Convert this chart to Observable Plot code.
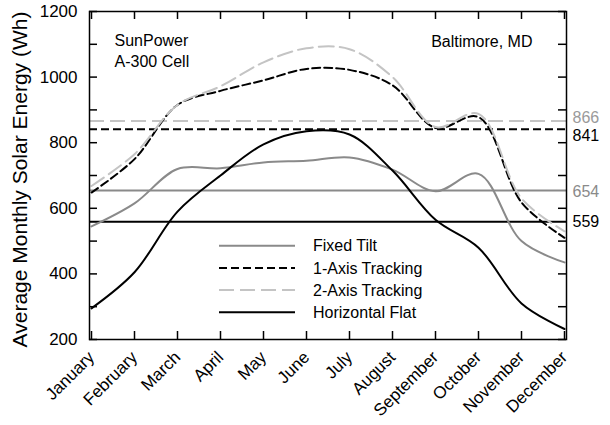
<!DOCTYPE html>
<html>
<head>
<meta charset="utf-8">
<script src="https://cdn.jsdelivr.net/npm/d3@7"></script>
<script src="https://cdn.jsdelivr.net/npm/@observablehq/plot@0.6"></script>
<style>
  html, body { margin: 0; padding: 0; background: white; }
</style>
</head>
<body>
<div id="chart"></div>
<script>
// ---- Data ----
const months = ["January", "February", "March", "April", "May", "June", "July", "August", "September", "October", "November", "December"];
const fixedTilt      = [545, 615, 720, 722, 740, 745, 755, 718, 652, 705, 500, 435];
const oneAxisTracking = [648, 750, 915, 958, 990, 1025, 1022, 975, 845, 878, 618, 510];
const twoAxisTracking = [668, 765, 915, 972, 1045, 1088, 1085, 1000, 848, 888, 630, 530];
const horizontalFlat = [295, 405, 590, 700, 795, 835, 825, 715, 565, 480, 310, 232];
const seriesNames = ["Fixed Tilt", "1-Axis Tracking", "2-Axis Tracking", "Horizontal Flat"];
const averages = [654, 841, 866, 559];
const yTickLabels = [200, 400, 600, 800, 1000, 1200];
const yTickMarks = [200, 300, 400, 500, 600, 700, 800, 900, 1000, 1100, 1200];
const noteLeft = "SunPower\nA-300 Cell";
const noteRight = "Baltimore, MD";
const yTitle = "Average Monthly Solar Energy (Wh)";

// ---- Layout & styles ----
const W = 610, H = 425, mL = 89, mR = 44, mT = 11, mB = 86;
const frameW = W - mL - mR, frameH = H - mT - mB, tickLen = 8;
const seriesValues = [fixedTilt, oneAxisTracking, twoAxisTracking, horizontalFlat];
const styles = [
  {stroke: "#8a8a8a", dash: null, labelFill: "#8a8a8a", labelDy: 1},
  {stroke: "#000000", dash: "8,4", labelFill: "#000000", labelDy: 7},
  {stroke: "#c4c4c4", dash: "15,6", labelFill: "#9a9a9a", labelDy: -3},
  {stroke: "#000000", dash: null, labelFill: "#000000", labelDy: 0}
];

const rows = seriesNames.flatMap((name, s) =>
  months.map((m, i) => ({series: name, month: m, value: seriesValues[s][i]})));

const font = "'Liberation Sans', Arial, Helvetica, sans-serif";

const marks = [];
// average reference lines
seriesNames.forEach((name, s) => {
  marks.push(Plot.ruleY([averages[s]], {stroke: styles[s].stroke, strokeDasharray: styles[s].dash, strokeWidth: 2}));
});
// curves
seriesNames.forEach((name, s) => {
  marks.push(Plot.line(rows.filter(d => d.series === name), {
    x: "month", y: "value", stroke: styles[s].stroke, strokeDasharray: styles[s].dash,
    strokeWidth: 2, curve: "catmull-rom"
  }));
});
// average labels
seriesNames.forEach((name, s) => {
  marks.push(Plot.text([averages[s]], {
    y: d => d, text: d => String(d), frameAnchor: "right", dx: 6, dy: styles[s].labelDy,
    textAnchor: "start", fill: styles[s].labelFill, fontSize: 16
  }));
});

marks.push(
  Plot.frame({stroke: "black", strokeWidth: 1.5}),
  // inward ticks on all four sides
  Plot.tickX(months, {x: d => d, insetTop: frameH - tickLen, stroke: "black", strokeWidth: 1.5}),
  Plot.tickX(months, {x: d => d, insetBottom: frameH - tickLen, stroke: "black", strokeWidth: 1.5}),
  Plot.tickY(yTickMarks, {y: d => d, insetRight: frameW - tickLen, stroke: "black", strokeWidth: 1.5}),
  Plot.tickY(yTickMarks, {y: d => d, insetLeft: frameW - tickLen, stroke: "black", strokeWidth: 1.5}),
  Plot.axisY({anchor: "left", ticks: yTickLabels, tickSize: 0, tickPadding: 12,
    tickFormat: d => String(d), label: null, fontSize: 17}),
  Plot.axisX({anchor: "bottom", tickSize: 0, tickPadding: 15, tickRotate: -45, label: null, fontSize: 17}),
  Plot.text([noteLeft], {frameAnchor: "top-left", dx: 25, dy: 20, lineAnchor: "top", textAnchor: "start", lineHeight: 1.3, fontSize: 16}),
  Plot.text([noteRight], {frameAnchor: "top-right", dx: -34, dy: 24, lineAnchor: "top", textAnchor: "end", fontSize: 16}),
  Plot.text([yTitle], {frameAnchor: "left", dx: -69, dy: 4, rotate: -90, textAnchor: "middle", fontSize: 21})
);

const chart = Plot.plot({
  width: W, height: H,
  marginLeft: mL, marginRight: mR, marginTop: mT, marginBottom: mB,
  x: {type: "point", domain: months, padding: 0},
  y: {domain: [200, 1200]},
  style: {fontFamily: font, fontSize: "16px", background: "white", color: "black"},
  marks
});

// legend overlay
const svg = d3.select(chart);
const lg = svg.append("g").attr("font-family", font).attr("font-size", 16).attr("text-anchor", "start");
seriesNames.forEach((name, s) => {
  const y = 245.7 + s * 22.2;
  lg.append("line").attr("x1", 219).attr("x2", 295).attr("y1", y).attr("y2", y)
    .attr("stroke", styles[s].stroke).attr("stroke-width", 2)
    .attr("stroke-dasharray", styles[s].dash);
  lg.append("text").attr("x", 313).attr("y", y).attr("dy", "0.35em").attr("fill", "black").text(name);
});

document.getElementById("chart").appendChild(chart);
</script>
</body>
</html>
